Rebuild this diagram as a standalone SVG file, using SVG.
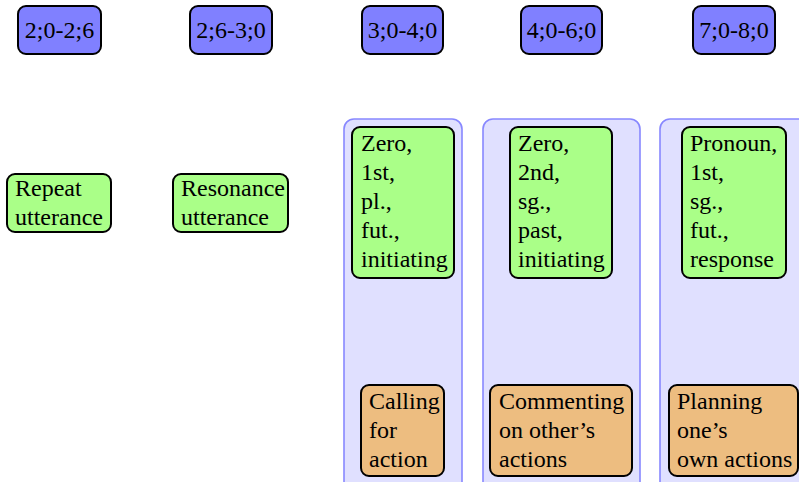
<svg xmlns="http://www.w3.org/2000/svg" width="799" height="482" viewBox="0 0 799 482">
<style>
text{font-family:"Liberation Serif","DejaVu Serif",serif;font-size:24px;fill:#000}
.c{text-anchor:middle}
.age{fill:#8080ff;stroke:#000;stroke-width:2}
.grp{fill:#e0e0ff;stroke:#8888ff;stroke-width:1.6}
.g{fill:#aaff88;stroke:#000;stroke-width:2}
.o{fill:#edbd80;stroke:#000;stroke-width:2}
</style>
<rect width="799" height="482" fill="#fff"/>
<g id="age1"><rect class="age" x="18" y="6" width="83" height="48" rx="8"/><text class="c" x="59.5" y="38">2;0-2;6</text></g>
<g id="age2"><rect class="age" x="190" y="6" width="82" height="48" rx="8"/><text class="c" x="231" y="38">2;6-3;0</text></g>
<g id="age3"><rect class="age" x="362" y="6" width="81" height="48" rx="8"/><text class="c" x="402.5" y="38">3;0-4;0</text></g>
<g id="age4"><rect class="age" x="521" y="6" width="81" height="48" rx="8"/><text class="c" x="561.5" y="38">4;0-6;0</text></g>
<g id="age5"><rect class="age" x="693" y="6" width="82" height="48" rx="8"/><text class="c" x="734" y="38">7;0-8;0</text></g>
<g id="group3"><rect class="grp" x="344" y="119" width="118" height="375" rx="10"/></g>
<g id="group4"><rect class="grp" x="483" y="119" width="157" height="375" rx="10"/></g>
<g id="group5"><rect class="grp" x="660" y="119" width="160" height="375" rx="10"/></g>
<g id="repeat"><rect class="g" x="7" y="174" width="104" height="58" rx="8"/><text x="15" y="196">Repeat</text><text x="15" y="225">utterance</text></g>
<g id="resonance"><rect class="g" x="173" y="174" width="115" height="58" rx="8"/><text x="181" y="196">Resonance</text><text x="181" y="225">utterance</text></g>
<g id="form3"><rect class="g" x="352" y="127" width="102" height="151" rx="8"/>
<text x="361" y="151">Zero,</text><text x="361" y="180">1st,</text><text x="361" y="209">pl.,</text><text x="361" y="238">fut.,</text><text x="361" y="267">initiating</text></g>
<g id="form4"><rect class="g" x="510" y="127" width="102" height="151" rx="8"/>
<text x="518" y="151">Zero,</text><text x="518" y="180">2nd,</text><text x="518" y="209">sg.,</text><text x="518" y="238">past,</text><text x="518" y="267">initiating</text></g>
<g id="form5"><rect class="g" x="682" y="127" width="104" height="151" rx="8"/>
<text x="690" y="151">Pronoun,</text><text x="690" y="180">1st,</text><text x="690" y="209">sg.,</text><text x="690" y="238">fut.,</text><text x="690" y="267">response</text></g>
<g id="func3"><rect class="o" x="361" y="385" width="83" height="91" rx="8"/>
<text x="369" y="409">Calling</text><text x="369" y="438">for</text><text x="369" y="467">action</text></g>
<g id="func4"><rect class="o" x="490" y="385" width="142" height="91" rx="8"/>
<text x="499" y="409">Commenting</text><text x="499" y="438">on other’s</text><text x="499" y="467">actions</text></g>
<g id="func5"><rect class="o" x="669" y="385" width="129" height="91" rx="8"/>
<text x="677" y="409">Planning</text><text x="677" y="438">one’s</text><text x="677" y="467">own actions</text></g>
<g id="connectors"></g>
</svg>
